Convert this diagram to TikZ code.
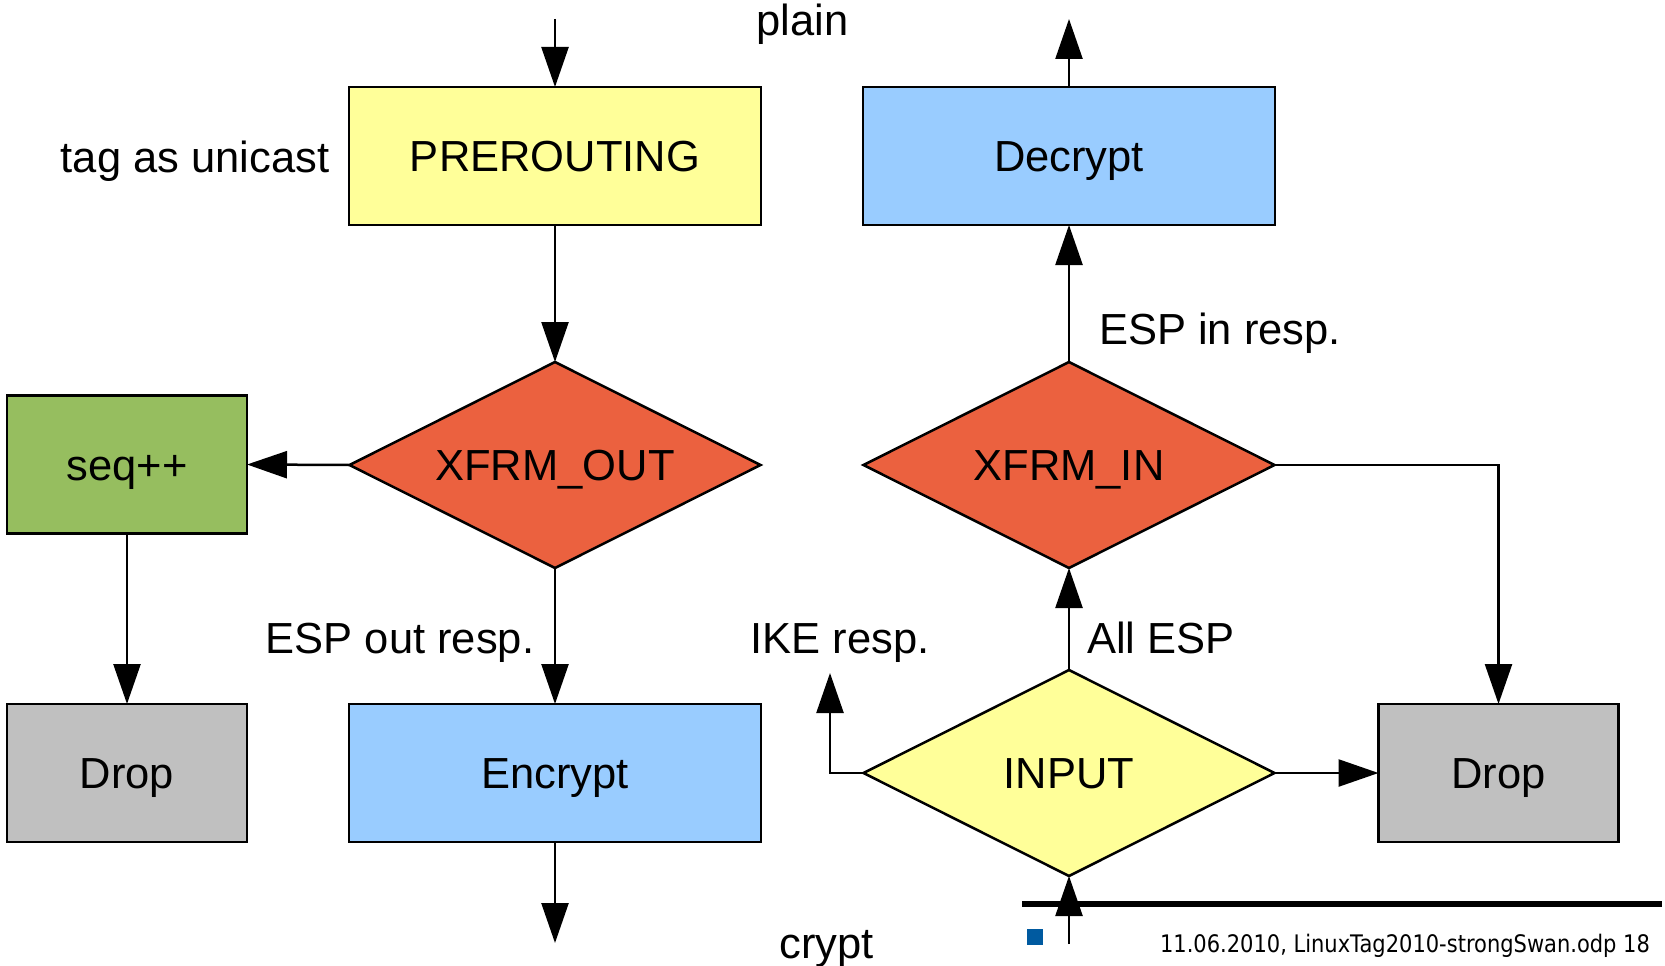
\documentclass[tikz,border=0pt]{standalone}
\usepackage{fontspec}
\setmainfont{Liberation Sans}
\newfontfamily\footfont{DejaVu Sans}
\usetikzlibrary{shapes.geometric,arrows.meta}

\definecolor{boxyellow}{RGB}{255,255,153}
\definecolor{boxblue}{RGB}{153,204,255}
\definecolor{boxred}{RGB}{235,97,63}
\definecolor{boxgreen}{RGB}{150,190,95}
\definecolor{boxgray}{RGB}{192,192,192}
\definecolor{footblue}{RGB}{0,90,160}

\tikzset{
  txt/.style={font=\fontsize{43.5}{50}\selectfont, text=black},
  % fixed text box so every caption sits on the same baseline
  intext/.style={txt, text height=31.2pt, text depth=0pt},
  rbox/.style={intext, draw=black, line width=2.5pt, rectangle, inner sep=0pt, outer sep=0pt},
  bigbox/.style={rbox, minimum width=412pt, minimum height=138pt},
  smallbox/.style={rbox, minimum width=240pt, minimum height=138pt},
  decision/.style={intext, draw=black, line width=2.5pt, diamond, aspect=2, inner sep=0pt, outer sep=0pt,
                   minimum width=411pt, minimum height=206pt},
  arr/.style={line width=2.5pt, -{Triangle[length=40pt,width=27pt]}},
  lbl/.style={txt, inner sep=0pt, anchor=base},
}

\begin{document}
\begin{tikzpicture}[x=1pt,y=-1pt]
  \useasboundingbox (0,0) rectangle (1665,966);

  % chain of boxes
  \node[bigbox, fill=boxyellow] (pre) at (555,156) {PREROUTING};
  \node[bigbox, fill=boxblue]   (dec) at (1069,156) {Decrypt};
  \node[decision, fill=boxred]  (xout) at (555,465) {XFRM\_OUT};
  \node[decision, fill=boxred]  (xin) at (1069,465) {XFRM\_IN};
  \node[smallbox, fill=boxgreen] (seq) at (127,464.5) {seq++};
  \node[smallbox, fill=boxgray] (dropl) at (127,773) {Drop};
  \node[bigbox, fill=boxblue]   (enc) at (555,773) {Encrypt};
  \node[decision, fill=boxyellow] (inp) at (1069,773) {INPUT};
  \node[smallbox, fill=boxgray] (dropr) at (1498.5,773) {Drop};

  % free ends of the connectors
  \coordinate (plainin) at (555,19);
  \coordinate (plainout) at (1069,19);
  \coordinate (cryptout) at (555,943);
  \coordinate (cryptin) at (1069,944);
  \coordinate (ike) at (830,673);

  % footer rule and marker
  \fill[black] (1022,901) rectangle (1662,907);
  \fill[footblue] (1027,929) rectangle (1043,945);

  % connectors
  \draw[arr] (plainin) -- (pre.north);
  \draw[arr] (pre.south) -- (xout.north);
  \draw[arr] (xout.west) -- (seq.east);
  \draw[arr] (seq.south) -- (dropl.north);
  \draw[arr] (xout.south) -- (enc.north);
  \draw[arr] (enc.south) -- (cryptout);
  \draw[arr] (cryptin) -- (inp.south);
  \draw[arr] (inp.north) -- (xin.south);
  \draw[arr] (xin.north) -- (dec.south);
  \draw[arr] (dec.north) -- (plainout);
  \draw[arr] (xin.east) -| (dropr.north);
  \draw[arr] (inp.east) -- (dropr.west);
  \draw[arr] (inp.west) -| (ike);

  % labels
  \node[lbl] (lplain) at (802.5,36) {plain};
  \node[lbl] (ltag) at (195,172) {tag as unicast};
  \node[lbl] (lespin) at (1220,344) {ESP in resp.};
  \node[lbl] (lespout) at (400,653) {ESP out resp.};
  \node[lbl] (like) at (840,653) {IKE resp.};
  \node[lbl] (lall) at (1161,653) {All ESP};
  \node[lbl] (lcrypt) at (826.5,958) {crypt};

  % footer text
  \node[inner sep=0pt, anchor=base] (foot) at (1405,952)
    {\scalebox{1}[1.15]{\footfont\fontsize{21}{24}\selectfont 11.06.2010, LinuxTag2010-strongSwan.odp 18}};
\end{tikzpicture}
\end{document}
